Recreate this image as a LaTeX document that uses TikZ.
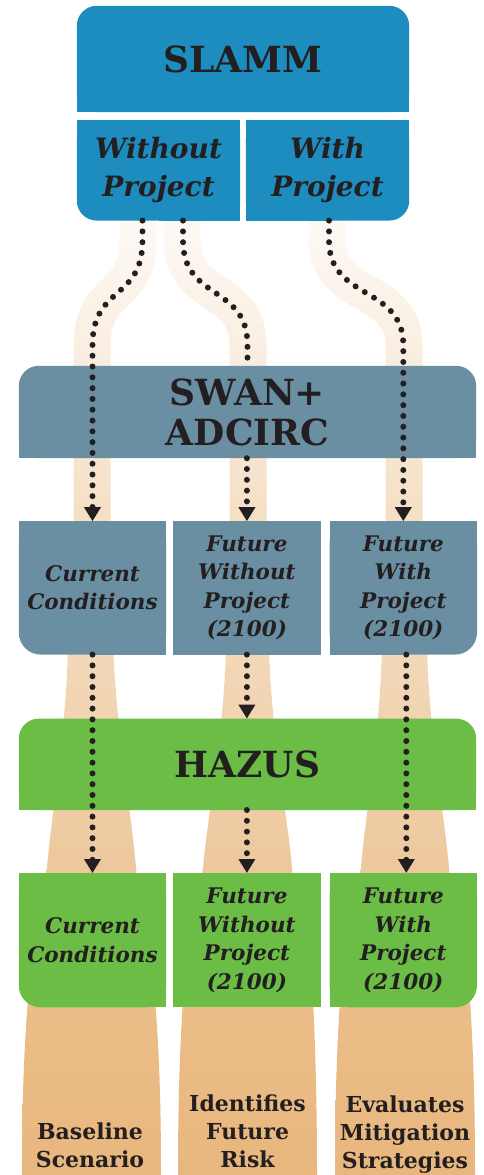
\documentclass[tikz,border=0pt]{standalone}
\usepackage{fontspec}
\setmainfont{DejaVu Serif}
\usetikzlibrary{positioning, backgrounds, fadings, arrows.meta, calc}

\definecolor{ink}{HTML}{231F20}
\definecolor{slammblue}{HTML}{1D8CBF}
\definecolor{swanslate}{HTML}{6A8FA3}
\definecolor{hazusgreen}{HTML}{6CBD45}
\definecolor{peach}{HTML}{F0CFA8}
\definecolor{midtop}{HTML}{F3D9BA}
\definecolor{midbottom}{HTML}{EDC79C}
\definecolor{lowtop}{HTML}{EBBD88}
\definecolor{lowbottom}{HTML}{E8B77E}
\tikzfading[name=bandfade, top color=transparent!92, bottom color=transparent!30]

\begin{document}
\begin{tikzpicture}[
    x=1pt, y=-1pt,
    block/.style={rectangle, inner sep=0pt, align=center, text=ink},
    title/.style={block, font=\bfseries\fontsize{36}{40}\selectfont},
    variant/.style={block, minimum width=163pt, minimum height=100pt, font=\bfseries\itshape\fontsize{28}{38}\selectfont},
    result/.style={block, minimum width=147pt, minimum height=133pt, font=\bfseries\itshape\fontsize{21.5}{28.5}\selectfont},
    outcome/.style={block, anchor=south, font=\bfseries\fontsize{22}{28}\selectfont},
    dotline/.style={draw=ink, line width=6pt, line cap=round, dash pattern=on 0pt off 10.8pt},
    dotarrow/.style={dotline, -{Triangle[width=16pt,length=14pt]}},
    topband/.style={draw=peach, line width=37pt, path fading=bandfade},
    midband/.style={top color=midtop, bottom color=midbottom},
    lowband/.style={top color=lowtop, bottom color=lowbottom}
    ]
    \useasboundingbox (0,0) rectangle (484,1175);

    % models and scenarios
    \node[title, minimum width=332pt, minimum height=106pt] (slamm) at (243,59) {SLAMM};
    \node[variant] (without) [below right=8pt and 0pt of slamm.south west] {Without\\Project};
    \node[variant] (with) [below left=8pt and 0pt of slamm.south east] {With\\Project};

    \node[title, minimum width=457pt, minimum height=92pt] (swan) at (247.5,412) {SWAN+\\ADCIRC};
    \node[result] (swcur) [below right=63pt and 0pt of swan.south west] {Current\\Conditions};
    \node[result] (swwo) [right=7pt of swcur] {Future\\Without\\Project\\(2100)};
    \node[result] (swwi) [right=9pt of swwo] {Future\\With\\Project\\(2100)};

    \node[title, minimum width=457pt, minimum height=91pt] (hazus) [below right=64pt and 0pt of swcur.south west] {HAZUS};
    \node[result, minimum height=134pt] (hzcur) [below right=63pt and 0pt of hazus.south west] {Current\\Conditions};
    \node[result, minimum height=134pt] (hzwo) [right=7pt of hzcur] {Future\\Without\\Project\\(2100)};
    \node[result, minimum height=134pt] (hzwi) [right=9pt of hzwo] {Future\\With\\Project\\(2100)};

    % outcomes
    \node[outcome] (baseline) at (90,1168) {Baseline\\Scenario};
    \node[outcome] (risk) at (247.5,1168) {Identifies\\Future\\Risk};
    \node[outcome] (mitigation) at (405,1174) {Evaluates\\Mitigation\\Strategies};

    \begin{scope}[on background layer]
      % bands
      \draw[topband] (138,220) -- (138,240) .. controls (138,300) and (92,285) .. (92,345) -- (92,521);
      \draw[topband] (182,220) -- (182,240) .. controls (182,300) and (248,285) .. (248,345) -- (248,521);
      \draw[topband] (327,220) -- (327,240) .. controls (327,300) and (404,285) .. (404,345) -- (404,521);
      \shade[midband] (68,645) .. controls (66,740) and (50,820) .. (46,880) -- (137,880) .. controls (133,820) and (117,740) .. (113,645) -- cycle;
      \shade[midband] (226,645) .. controls (224,740) and (206,820) .. (202,880) -- (293,880) .. controls (289,820) and (271,740) .. (269,645) -- cycle;
      \shade[midband] (382,645) .. controls (380,740) and (364,820) .. (360,880) -- (450,880) .. controls (446,820) and (429,740) .. (427,645) -- cycle;
      \shade[lowband] (28,1000) .. controls (23,1060) and (22,1120) .. (22,1175) -- (161,1175) .. controls (161,1120) and (160,1060) .. (155,1000) -- cycle;
      \shade[lowband] (183,1000) .. controls (179,1060) and (178,1120) .. (178,1175) -- (317,1175) .. controls (317,1120) and (316,1060) .. (313,1000) -- cycle;
      \shade[lowband] (340,1000) .. controls (336,1060) and (335,1120) .. (335,1175) -- (475,1175) .. controls (475,1120) and (474,1060) .. (470,1000) -- cycle;

      % box fills
      \fill[slammblue, rounded corners=20pt] (slamm.south west) rectangle (slamm.north east);
      \fill[slammblue] (slamm.south west) rectangle ([yshift=22pt]slamm.south east);
      \fill[slammblue, rounded corners=20pt] (without.south west) rectangle (without.north east);
      \fill[slammblue] (without.west) rectangle (without.north east);
      \fill[slammblue] (without.south) rectangle (without.north east);
      \fill[slammblue, rounded corners=20pt] (with.south west) rectangle (with.north east);
      \fill[slammblue] (with.west) rectangle (with.north east);
      \fill[slammblue] (with.south west) rectangle (with.north);

      \fill[swanslate, rounded corners=20pt] (swan.south west) rectangle (swan.north east);
      \fill[swanslate] (swan.south west) rectangle (swan.east);
      \fill[swanslate, rounded corners=22pt] (swcur.south west) rectangle (swcur.north east);
      \fill[swanslate] (swcur.west) rectangle (swcur.north east);
      \fill[swanslate] (swcur.south) rectangle (swcur.north east);
      \fill[swanslate] (swwo.south west) rectangle (swwo.north east);
      \fill[swanslate, rounded corners=22pt] (swwi.south west) rectangle (swwi.north east);
      \fill[swanslate] (swwi.west) rectangle (swwi.north east);
      \fill[swanslate] (swwi.south west) rectangle (swwi.north);

      \fill[hazusgreen, rounded corners=20pt] (hazus.south west) rectangle (hazus.north east);
      \fill[hazusgreen] (hazus.south west) rectangle (hazus.east);
      \fill[hazusgreen, rounded corners=22pt] (hzcur.south west) rectangle (hzcur.north east);
      \fill[hazusgreen] (hzcur.west) rectangle (hzcur.north east);
      \fill[hazusgreen] (hzcur.south) rectangle (hzcur.north east);
      \fill[hazusgreen] (hzwo.south west) rectangle (hzwo.north east);
      \fill[hazusgreen, rounded corners=22pt] (hzwi.south west) rectangle (hzwi.north east);
      \fill[hazusgreen] (hzwi.west) rectangle (hzwi.north east);
      \fill[hazusgreen] (hzwi.south west) rectangle (hzwi.north);
    \end{scope}

    % flows
    \draw[dotarrow] ([xshift=-16pt]without.south) -- ++(0,20) .. controls +(0,60) and ([yshift=236pt]swcur.north) .. ([yshift=176pt]swcur.north) -- (swcur.north);
    \draw[dotline] ([xshift=24.5pt]without.south) -- ++(0,20) .. controls +(0,60) and ([yshift=81pt]swan.north) .. ([yshift=21pt]swan.north) -- (swan.north);
    \draw[dotarrow] ([xshift=1.5pt]with.south) -- ++(0,20) .. controls +(0,60) and ([yshift=236pt]swwi.north) .. ([yshift=176pt]swwi.north) -- (swwi.north);
    \draw[dotarrow] (swan.south -| swwo.north) -- (swwo.north);

    \draw[dotarrow] (swcur.south) -- (hzcur.north);
    \draw[dotarrow] (swwo.south) -- (hazus.north -| swwo.south);
    \draw[dotarrow] (hazus.south -| hzwo.north) -- (hzwo.north);
    \draw[dotarrow] ([xshift=3pt]swwi.south) -- ([xshift=3pt]hzwi.north);
\end{tikzpicture}
\end{document}
